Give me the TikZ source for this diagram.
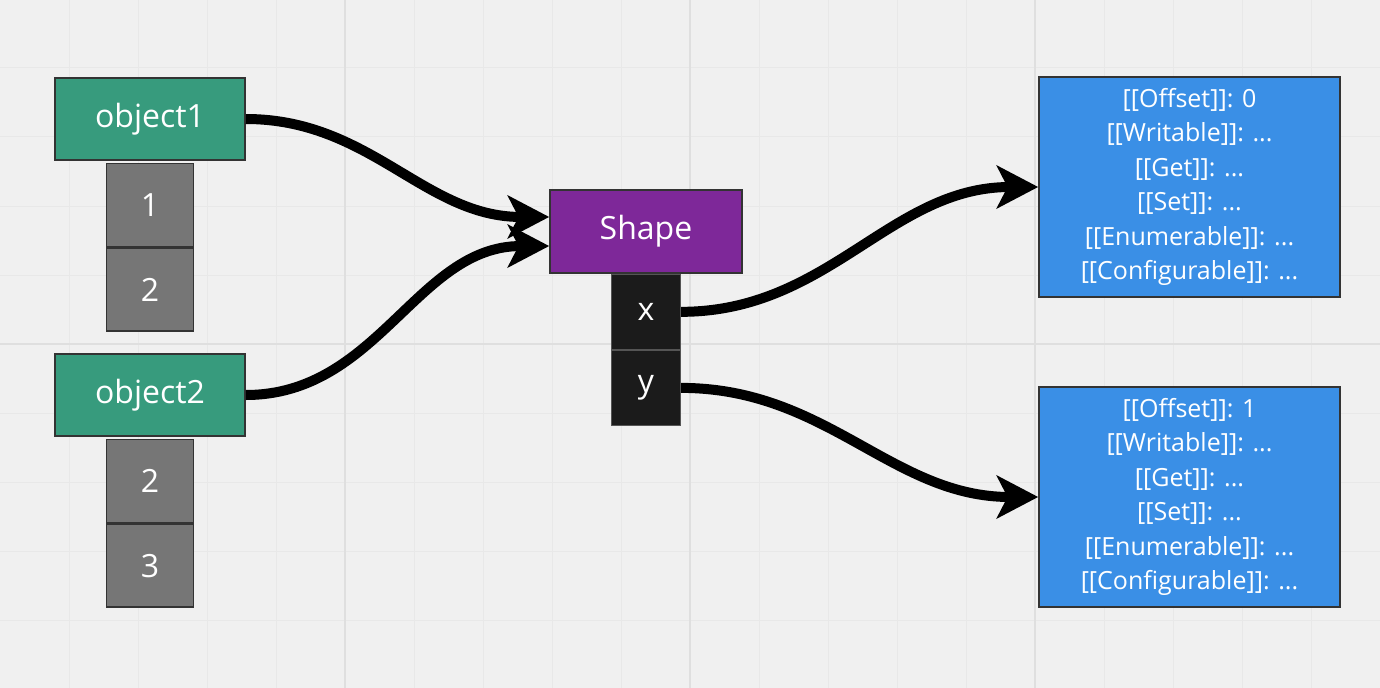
\documentclass[tikz,border=0pt]{standalone}
\usepackage{fontspec}
\setmainfont{Open Sans}
\usetikzlibrary{positioning,arrows.meta}
\definecolor{bgcol}{HTML}{F0F0F0}
\definecolor{gridminor}{HTML}{E8E8E8}
\definecolor{gridmajor}{HTML}{DFDFDF}
\definecolor{objgreen}{HTML}{379B7D}
\definecolor{valgray}{HTML}{767676}
\definecolor{shapepurple}{HTML}{7E2899}
\definecolor{keyblack}{HTML}{1B1B1B}
\definecolor{keyedge}{HTML}{555555}
\definecolor{propblue}{HTML}{3A8FE6}
\definecolor{boxedge}{HTML}{333333}
\begin{document}
\begin{tikzpicture}[x=0.75pt,y=-0.75pt,
    box/.style={draw=boxedge, line width=1.2pt, text=white, inner sep=0pt, font=\fontsize{24}{30}\selectfont},
    objbox/.style={box, fill=objgreen, minimum width=142.5pt, minimum height=61.5pt},
    valbox/.style={box, fill=valgray, minimum width=65.25pt, minimum height=62.25pt},
    shapebox/.style={box, fill=shapepurple, minimum width=144pt, minimum height=62.25pt},
    keybox/.style={box, draw=keyedge, line width=0.8pt, fill=keyblack, minimum width=51.75pt, minimum height=56.25pt},
    propbox/.style={box, fill=propblue, minimum width=225.75pt, minimum height=165pt, align=center, font=\fontsize{18.75}{25.8}\selectfont},
    link/.style={line width=7.5pt, -{Stealth[length=31pt,width=32pt,inset=8pt]}}]
        \useasboundingbox (0,0) rectangle (1380,688);
        
        % Draw the board grid
        \fill[bgcol] (0,0) rectangle (1380,688);
        \foreach \x in {69,138,...,1311} {
            \draw[gridminor, line width=0.75pt] (\x,0) -- (\x,688);
        };
        \foreach \y in {68,137,...,620} {
            \draw[gridminor, line width=0.75pt] (0,\y) -- (1380,\y);
        };
        \foreach \x in {345,690,1035} {
            \draw[gridmajor, line width=1.5pt] (\x,0) -- (\x,688);
        };
        \draw[gridmajor, line width=1.5pt] (0,344) -- (1380,344);
        
        % Draw the objects and their values
        \node[objbox] (obj1) at (150,119) {object1};
        \node[valbox, below=1.5pt of obj1] (obj1a) {1};
        \node[valbox, below=0pt of obj1a] (obj1b) {2};
        \node[objbox] (obj2) at (150,395) {object2};
        \node[valbox, below=1.5pt of obj2] (obj2a) {2};
        \node[valbox, below=0pt of obj2a] (obj2b) {3};
        
        % Draw the shape and its keys
        \node[shapebox] (shape) at (646,231.5) {Shape};
        \node[keybox, below=0pt of shape] (keyx) {x};
        \node[keybox, below=0pt of keyx] (keyy) {y};
        
        % Property records
        \node[propbox] (propx) at (1189.5,187) {[[Offset]]: 0\\{[[Writable]]: ...}\\{[[Get]]: ...}\\{[[Set]]: ...}\\{[[Enumerable]]: ...}\\{[[Configurable]]: ...}};
        \node[propbox] (propy) at (1189.5,497) {[[Offset]]: 1\\{[[Writable]]: ...}\\{[[Get]]: ...}\\{[[Set]]: ...}\\{[[Enumerable]]: ...}\\{[[Configurable]]: ...}};
        
        % Links
        \draw[link] (obj1.east) to[out=0,in=180] ([yshift=10.9pt]shape.west);
        \draw[link] (obj2.east) to[out=0,in=180] ([yshift=-10.9pt]shape.west);
        \draw[link] (keyx.east) to[out=0,in=180] (propx.west);
        \draw[link] (keyy.east) to[out=0,in=180] (propy.west);
    \end{tikzpicture}
\end{document}
